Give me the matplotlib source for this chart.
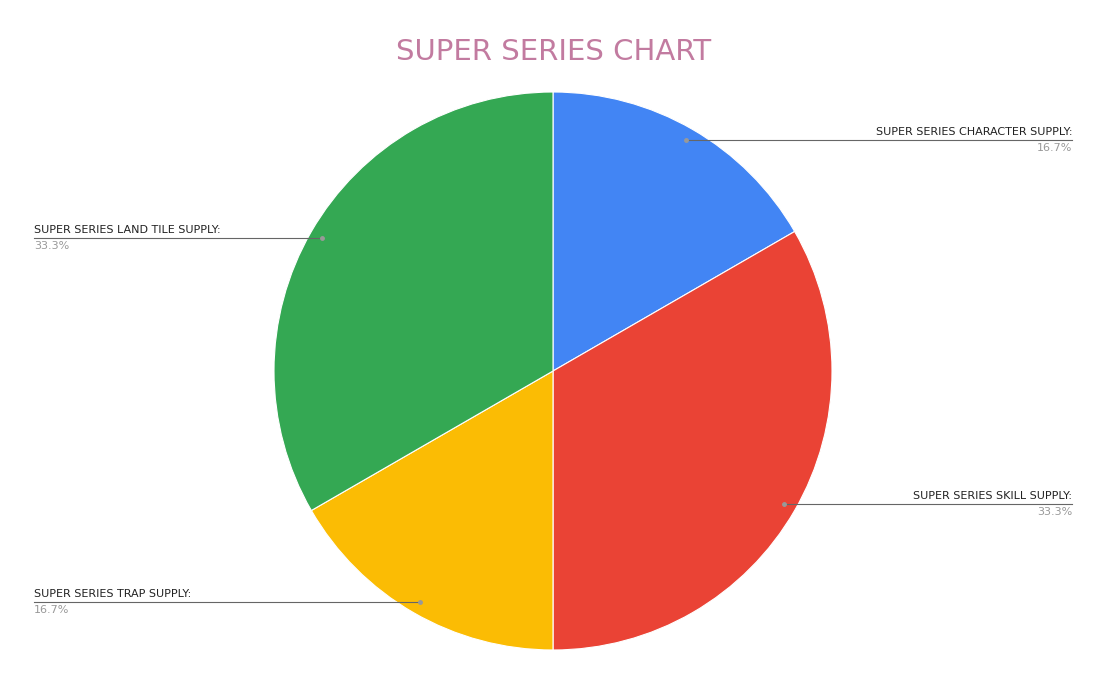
import numpy as np
from matplotlib import pyplot as plt

labels = ['SUPER SERIES CHARACTER SUPPLY', 'SUPER SERIES SKILL SUPPLY',
          'SUPER SERIES TRAP SUPPLY', 'SUPER SERIES LAND TILE SUPPLY']
values = [1, 2, 1, 2]
colors = ['#4285f4', '#ea4335', '#fbbc04', '#34a853']

W, H = 1107, 685
fig = plt.figure(figsize=(W / 100, H / 100), dpi=100)
ax = fig.add_axes([0, 0, 1, 1])
ax.set_xlim(0, W)
ax.set_ylim(0, H)
ax.set_aspect('equal')
ax.axis('off')

cx, cy, r = 553, H - 371, 279
wedges, _ = ax.pie(values, colors=colors, startangle=90, counterclock=False,
                   center=(cx, cy), radius=r, frame=True,
                   wedgeprops=dict(edgecolor='white', linewidth=0.8))
ax.set_xlim(0, W)
ax.set_ylim(0, H)
ax.axis('off')

total = sum(values)
for w, lab, v in zip(wedges, labels, values):
    ang = np.deg2rad((w.theta1 + w.theta2) / 2)
    px = cx + 0.955 * r * np.cos(ang)
    py = cy + 0.955 * r * np.sin(ang)
    pct = f'{100 * v / total:.1f}%'
    if np.cos(ang) > 0:
        x_end, ha = 1072, 'right'
    else:
        x_end, ha = 34, 'left'
    ax.plot([px, x_end], [py, py], color='#666666', linewidth=0.8)
    ax.plot(px, py, 'o', color='#999999', markersize=2.5)
    ax.text(x_end, py + 3, lab + ':', ha=ha, va='bottom', fontsize=8, color='#222222')
    ax.text(x_end, py - 3, pct, ha=ha, va='top', fontsize=8, color='#999999')

ax.text(W / 2, H - 52, 'SUPER SERIES CHART', ha='center', va='center',
        fontsize=21, color='#c27ba0')

fig.savefig('out.png', dpi=100)
